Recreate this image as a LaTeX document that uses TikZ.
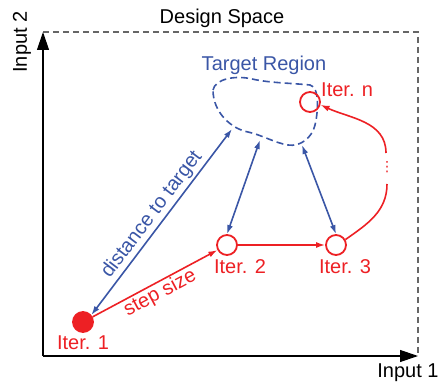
\documentclass[tikz,border=0pt]{standalone}
\usepackage{fontspec}
\setmainfont{Liberation Sans}
\newfontfamily\symfont{DejaVu Sans}
\usepackage{tikz}
\usetikzlibrary{arrows.meta}
\usetikzlibrary{positioning}
\definecolor{ired}{HTML}{ED2024}
\definecolor{tblue}{HTML}{3A56A6}
\tikzset{
  axis/.style={line width=1.2pt, -{Triangle[length=18pt,width=12pt]}},
  iter/.style={circle, draw=ired, line width=1.8pt, minimum size=20pt, inner sep=0pt},
  bigtext/.style={font=\fontsize{20}{22}\selectfont},
  itertext/.style={bigtext, text=ired, inner sep=1pt},
  dist/.style={tblue, line width=1.6pt, {Latex[length=9pt,width=6pt]}-{Latex[length=9pt,width=6pt]}},
  stepline/.style={ired, line width=1.6pt, -{Latex[length=9pt,width=6pt]}}
}
\begin{document}
\begin{tikzpicture}[x=1pt,y=1pt]
    \useasboundingbox (0,0) rectangle (439,383);
    % design space
    \coordinate (O) at (43,27);
    \coordinate (X) at (418,27);
    \coordinate (Y) at (43,351);
    \draw[line width=1.2pt, gray!80!black, dash pattern=on 6pt off 4pt] (Y) -- (418,351) -- (X);
    \draw[axis] (O) -- (X);
    \draw[axis] (O) -- (Y);
    \node[bigtext] (ds) at (222,365) {Design Space};
    \node[bigtext, rotate=90] (in2) at (22,341) {Input 2};
    \node[bigtext] (in1) at (408,10) {Input 1};
    % target region
    \draw[tblue, line width=1.6pt, dash pattern=on 7pt off 4pt]
      (213,293) .. controls (215,304) and (235,308) .. (252,304)
      .. controls (270,300) and (290,300) .. (310,298)
      .. controls (320,296) and (318,270) .. (315,258)
      .. controls (312,245) and (300,236) .. (288,238)
      .. controls (275,240) and (262,248) .. (248,251)
      .. controls (232,254) and (213,270) .. (213,293);
    \node[bigtext, tblue] (tr) at (264,318) {Target Region};
    \coordinate (t1) at (232,254);
    \coordinate (t2) at (260,243);
    \coordinate (t3) at (302,238);
    % iterations
    \node[iter, fill=ired] (i1) at (83,61) {};
    \node[iter] (i2) at (227,138) {};
    \node[iter] (i3) at (336,138) {};
    \node[iter] (in) at (310,281) {};
    \node[itertext, below=2pt of i1] (l1) {Iter. 1};
    \node[itertext, below=2pt of i2, xshift=13pt] (l2) {Iter. 2};
    \node[itertext, below=2pt of i3, xshift=9pt] (l3) {Iter. 3};
    \node[itertext, anchor=west] (ln) at (320,293) {Iter. n};
    % steps
    \path[stepline] (i1) edge node[sloped, below, itertext] {step size} (i2);
    \path[stepline] (i2) edge (i3);
    \coordinate (c1) at (387,199);
    \coordinate (c2) at (386,230);
    \draw[ired, line width=1.6pt] (i3.30) to[out=35, in=-90] (c1);
    \node[text=ired, inner sep=0pt, font=\symfont\fontsize{14}{14}\selectfont] (dots) at (387,216) {⋮};
    \draw[stepline] (c2) to[out=90, in=-25] (in.-15);
    % distances
    \path[dist] (i1.40) edge node[sloped, above, bigtext, text=tblue, inner sep=2pt] {distance to target} (t1);
    \path[dist] (i2.north) edge (t2);
    \path[dist] (i3.north) edge (t3);
\end{tikzpicture}
\end{document}
